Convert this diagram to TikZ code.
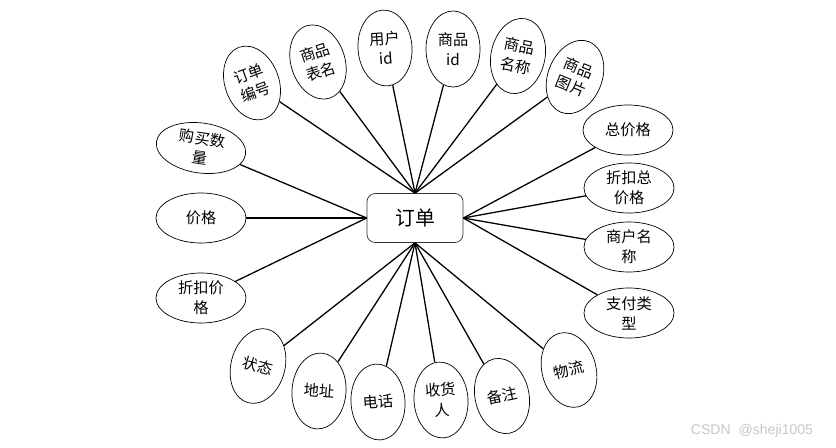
\documentclass[tikz,border=0pt]{standalone}
\usepackage{fontspec}
\usetikzlibrary{shapes.geometric}
\newfontfamily\cjk{Noto Sans CJK SC}
\newfontfamily\marksf{Liberation Sans}

\begin{document}
\begin{tikzpicture}[
    x = 0.03cm, y = -0.03cm,
    every node/.style = {font=\cjk\fontsize{13}{17}\selectfont},
    entity/.style = {
        rectangle,
        rounded corners=7pt,
        draw=black!80,
        line width=0.6pt,
        minimum width=2.88cm,
        minimum height=1.47cm,
        font=\cjk\fontsize{17}{20}\selectfont
    },
    attr/.style = {
        ellipse,
        draw,
        line width=0.6pt,
        align=center,
        inner sep=0pt,
        minimum width=2.7cm,
        minimum height=1.5cm
    },
    tallattr/.style = {
        attr,
        minimum width=1.62cm,
        minimum height=2.28cm
    },
    link/.style = {
        line width=1.1pt
    }
]
\useasboundingbox (0,0) rectangle (836,448);

\node[entity] (order) at (415,218) {订单};

% top
\node[tallattr, rotate=20] (orderno) at (252,83) {订单\\编号};
\node[tallattr, rotate=18] (tablename) at (318,62) {商品\\表名};
\node[tallattr, rotate=4] (userid) at (385,48) {用户\\id};
\node[tallattr] (goodsid) at (453,49) {商品\\id};
\node[tallattr, rotate=-12] (goodsname) at (518,56) {商品\\名称};
\node[tallattr, rotate=-22] (goodsimg) at (575,77) {商品\\图片};

% right
\node[attr] (total) at (628,130) {总价格};
\node[attr] (disctotal) at (629,188) {折扣总\\价格};
\node[attr] (shop) at (629,247) {商户名\\称};
\node[attr] (paytype) at (629,313) {支付类\\型};

% bottom
\node[tallattr, rotate=15] (logistics) at (569,370) {物流};
\node[tallattr, rotate=12] (remark) at (502,396) {备注};
\node[tallattr, rotate=4] (receiver) at (441,400) {收货\\人};
\node[tallattr, rotate=4] (phone) at (378,402) {电话};
\node[tallattr, rotate=-4] (address) at (319,391) {地址};
\node[tallattr, rotate=-15] (state) at (258,366) {状态};

% left
\node[attr, rotate=-8] (qty) at (201,148) {购买数\\量};
\node[attr] (price) at (201,218) {价格};
\node[attr] (discprice) at (201,298) {折扣价\\格};

\draw[link] (orderno) -- (order.north);
\draw[link] (tablename) -- (order.north);
\draw[link] (userid) -- (order.north);
\draw[link] (goodsid) -- (order.north);
\draw[link] (goodsname) -- (order.north);
\draw[link] (goodsimg) -- (order.north);

\draw[link] (total) -- (order.east);
\draw[link] (disctotal) -- (order.east);
\draw[link] (shop) -- (order.east);
\draw[link] (paytype) -- (order.east);

\draw[link] (logistics) -- (order.south);
\draw[link] (remark) -- (order.south);
\draw[link] (receiver) -- (order.south);
\draw[link] (phone) -- (order.south);
\draw[link] (address) -- (order.south);
\draw[link] (state) -- (order.south);

\draw[link] (qty) -- (order.west);
\draw[link] (price) -- (order.west);
\draw[link] (discprice) -- (order.west);

\node[font=\marksf\fontsize{12}{14}\selectfont, text=black!22] (mark) at (752,431) {CSDN\ \ @sheji1005};

\end{tikzpicture}
\end{document}
